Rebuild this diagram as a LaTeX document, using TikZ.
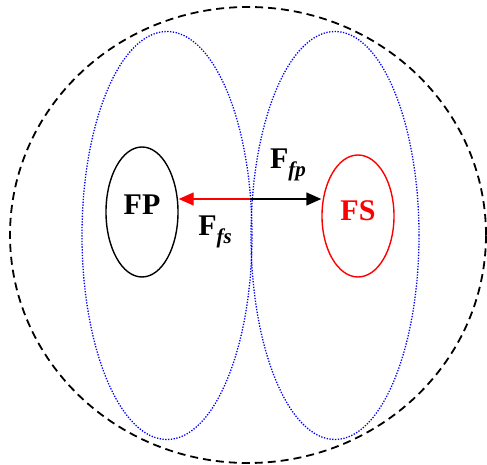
\documentclass[tikz,border=0pt]{standalone}
\usepackage{fontspec}
\setmainfont{Liberation Serif}
\usetikzlibrary{positioning,arrows.meta,shapes.geometric}
\tikzset{
  fluid/.style={ellipse,draw,line width=1.4pt,minimum width=72pt,inner sep=0pt,
    font=\fontsize{30}{30}\selectfont\bfseries},
  force/.style={line width=1.4pt,-{Triangle[length=15pt,width=13pt]}},
  forcelabel/.style={font=\fontsize{30}{30}\selectfont\bfseries},
  region/.style={blue,line width=1.3pt,dash pattern=on 1.3pt off 1.5pt},
}
\newcommand{\sub}[1]{\raisebox{-0.6ex}{\fontsize{21}{21}\selectfont\bfseries\itshape #1}}

\begin{document}
\begin{tikzpicture}[x=1pt,y=1pt]
\useasboundingbox (0,0) rectangle (487,465);
% whole domain
\draw[line width=1.8pt,dash pattern=on 8pt off 5pt] (248,230) ellipse [x radius=238,y radius=228];
% the two regions
\draw[region] (167,229.5) ellipse [x radius=85,y radius=204];
\draw[region] (335,229.5) ellipse [x radius=84,y radius=204];

% the two phases
\node[fluid,minimum height=130pt,text depth=14pt] (fp) at (142,253) {FP};
\node[fluid,red,minimum height=122pt,text depth=10pt] (fs) at (358,249) {FS};

% forces
\coordinate (mid) at (250,266);
\draw[force,red] (mid) -- (mid -| fp.east);
\draw[force,black] (mid) -- (mid -| fs.west);
\node[forcelabel] (ffp) at (288,300) {F\sub{fp}};
\node[forcelabel] (ffs) at (215,233) {F\sub{fs}};
\end{tikzpicture}
\end{document}
